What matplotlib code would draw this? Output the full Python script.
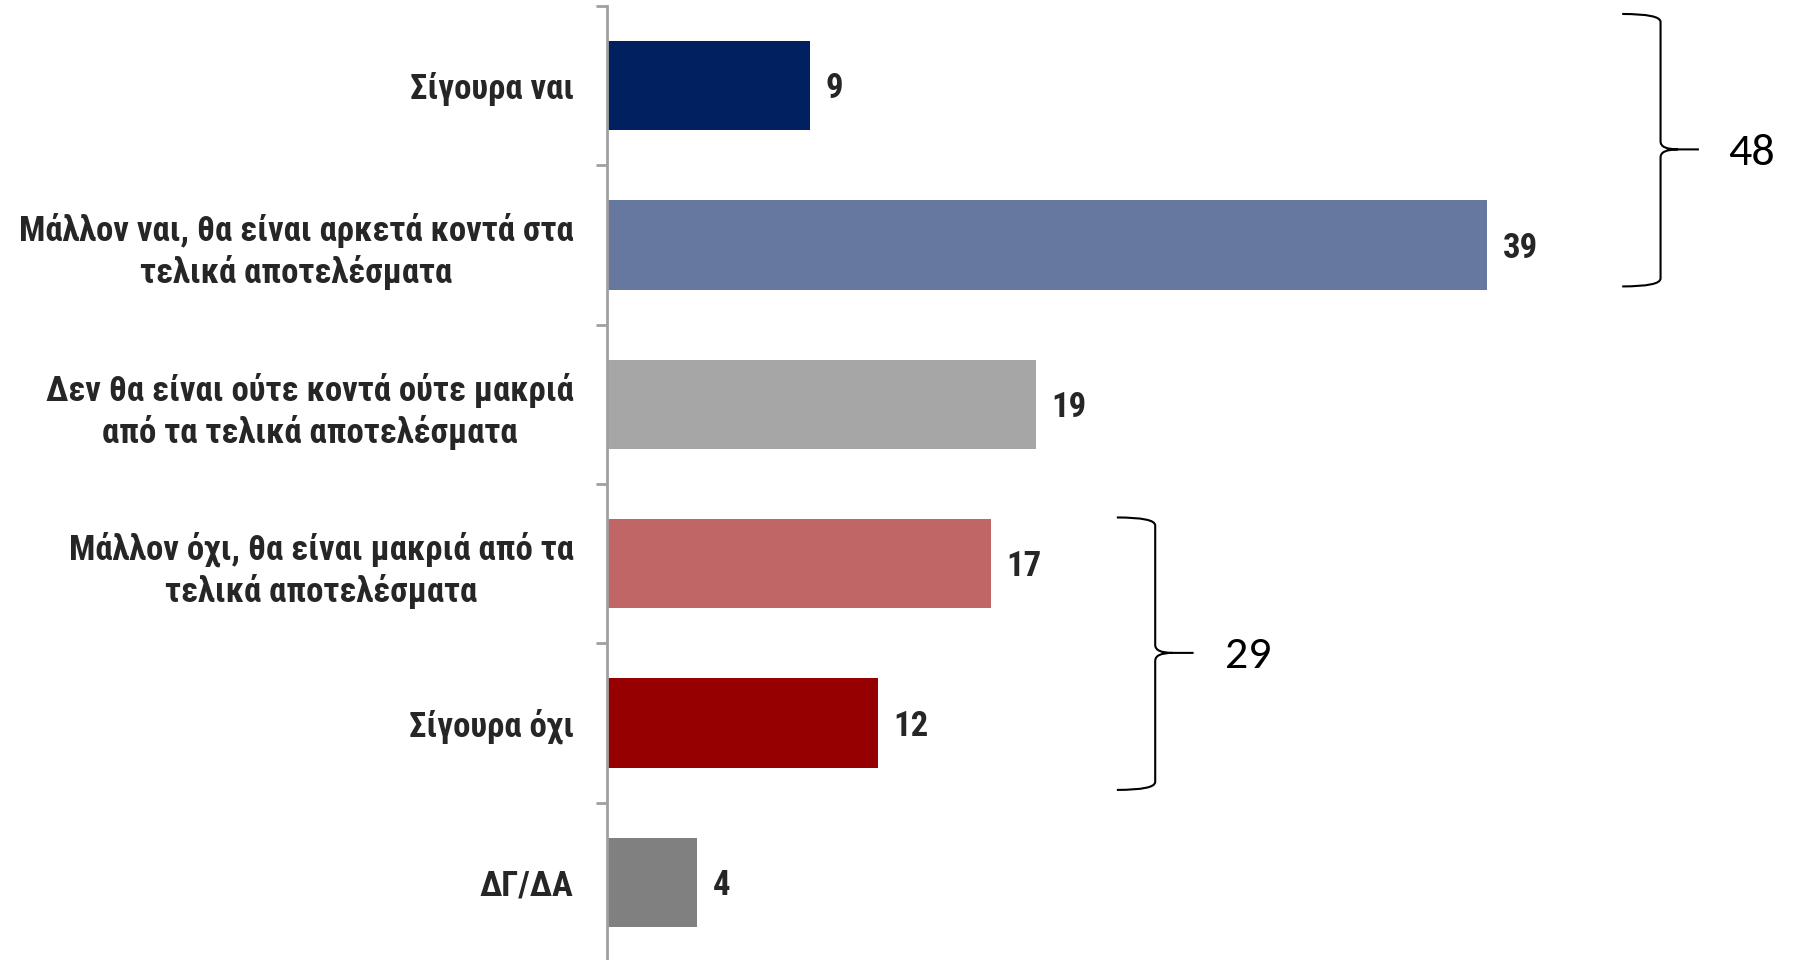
import matplotlib
matplotlib.use('agg')
import matplotlib.pyplot as plt
from matplotlib.path import Path
from matplotlib.patches import PathPatch
import numpy as np

categories = ["Σίγουρα ναι",
              "Μάλλον ναι, θα είναι αρκετά κοντά στα\nτελικά αποτελέσματα",
              "Δεν θα είναι ούτε κοντά ούτε μακριά\nαπό τα τελικά αποτελέσματα",
              "Μάλλον όχι, θα είναι μακριά από τα\nτελικά αποτελέσματα",
              "Σίγουρα όχι",
              "ΔΓ/ΔΑ"]
values = [9, 39, 19, 17, 12, 4]
colors = ["#002060", "#66789F", "#A6A6A6", "#C06666", "#960000", "#808080"]
# groups summed by the braces (indices into values)
groups = [[0, 1], [3, 4]]

labelfont = ['Roboto Condensed', 'Open Sans Condensed', 'DejaVu Sans']
labelsize = 25

fig = plt.figure(figsize=(17.93, 9.6), dpi=100)
ax = fig.add_axes([607 / 1793, -2 / 960, 1 - 607 / 1793, 956 / 960])

y = np.arange(len(values))
ax.barh(y, values, height=0.56, color=colors)
ax.set_ylim(len(values) - 0.5, -0.5)
ax.set_xlim(0, (1793 - 607) / 22.56)

for yi, v in zip(y, values):
	ax.text(v + 0.7, yi + 0.02, str(v), va='center', ha='left', fontsize=labelsize,
	        fontweight='bold', family=labelfont, color='#262626')

ax.set_yticks(y)
ax.set_yticklabels(categories, fontsize=labelsize, fontweight='bold', family=labelfont,
                   color='#262626', linespacing=1.25)
for lab in ax.get_yticklabels():
	lab.set_multialignment('center')
ax.set_yticks(np.arange(len(values) + 1) - 0.5, minor=True)
ax.tick_params(axis='y', which='major', length=0, pad=24)
ax.tick_params(axis='y', which='minor', length=8, width=2, color='#A0A0A0')
ax.set_xticks([])
for s in ['top', 'right', 'bottom']:
	ax.spines[s].set_visible(False)
ax.spines['left'].set_color('#A0A0A0')
ax.spines['left'].set_linewidth(2)

def brace(x_left, x_v, x_tip, y0, y1, ym, ry=0.05):
	xm = x_v + (x_tip - x_v) * 0.45
	verts = [(x_left, y0), (x_v, y0), (x_v, y0 + ry), (x_v, ym - ry),
	         (x_v, ym), (xm, ym), (x_tip, ym),
	         (xm, ym), (x_v, ym), (x_v, ym + ry), (x_v, y1 - ry),
	         (x_v, y1), (x_left, y1)]
	codes = [Path.MOVETO, Path.CURVE3, Path.CURVE3, Path.LINETO,
	         Path.CURVE3, Path.CURVE3, Path.LINETO,
	         Path.MOVETO, Path.CURVE3, Path.CURVE3, Path.LINETO,
	         Path.CURVE3, Path.CURVE3]
	ax.add_patch(PathPatch(Path(verts, codes), fill=False, lw=1.5, color='black', clip_on=False))

# brace positions: (x_left, x_vertical, x_tip, top, bottom, middle, text x)
brace_pos = [(45.0, 46.7, 48.4, -0.45, 1.26, 0.40, 49.7),
             (22.6, 24.3, 26.0, 2.71, 4.42, 3.56, 27.4)]
for g, (xl, xv, xt, y0, y1, ym, xtxt) in zip(groups, brace_pos):
	brace(xl, xv, xt, y0, y1, ym)
	total = sum(values[i] for i in g)
	ax.text(xtxt, ym + 0.02, str(total), va='center', ha='left', fontsize=33,
	        family=['Carlito', 'Open Sans'], color='black', clip_on=False)

plt.savefig("out.png", dpi=100)
